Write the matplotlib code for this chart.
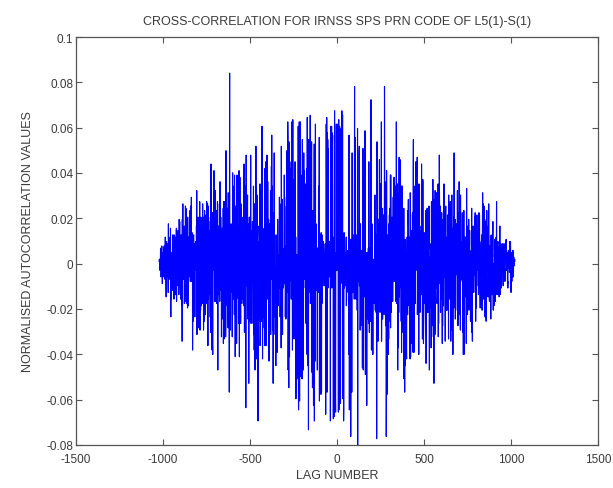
import numpy as np
import matplotlib
matplotlib.use("Agg")
import matplotlib.pyplot as plt

# IRNSS SPS code definitions (Gold codes, 1023 chips)
code_length = 1023
g1_taps = [7, 10]
g2_taps = [1, 2, 4, 7, 8, 10]
g1_init = [1, 1, 1, 1, 1, 1, 1, 1, 1, 1]
g2_init_L5_1 = [1, 1, 1, 0, 1, 0, 0, 1, 1, 1]
g2_init_S_1 = [0, 0, 1, 1, 1, 0, 1, 1, 1, 1]

x_ticks = [-1500, -1000, -500, 0, 500, 1000, 1500]
y_ticks = [-0.08, -0.06, -0.04, -0.02, 0, 0.02, 0.04, 0.06, 0.08, 0.1]
x_tick_labels = ["-1500", "-1000", "-500", "0", "500", "1000", "1500"]
y_tick_labels = ["-0.08", "-0.06", "-0.04", "-0.02", "0", "0.02", "0.04", "0.06", "0.08", "0.1"]


def lfsr(init, taps, n):
    s = list(init)
    out = []
    for _ in range(n):
        out.append(s[9])
        fb = 0
        for t in taps:
            fb ^= s[t - 1]
        s = [fb] + s[:9]
    return np.array(out)


def prn(g2_init):
    g1 = lfsr(g1_init, g1_taps, code_length)
    g2 = lfsr(g2_init, g2_taps, code_length)
    return 1 - 2 * (g1 ^ g2)


a = prn(g2_init_L5_1).astype(float)
b = prn(g2_init_S_1).astype(float)
corr = np.correlate(a, b, mode="full") / code_length
lags = np.arange(-(code_length - 1), code_length)

fig = plt.figure(figsize=(6.13, 4.89), dpi=100)
ax = fig.add_axes([76 / 613, 1 - 446 / 489, 522 / 613, 408 / 489])
ax.plot(lags, corr, color="#0000ff", linewidth=0.8)

ax.set_xlim(-1500, 1500)
ax.set_ylim(-0.08, 0.1)
ax.set_xticks(x_ticks)
ax.set_xticklabels(x_tick_labels)
ax.set_yticks(y_ticks)
ax.set_yticklabels(y_tick_labels)

txt = "#3a3a3a"
for s in ax.spines.values():
    s.set_color("#555555")
    s.set_linewidth(0.9)
ax.tick_params(direction="in", top=True, right=True, length=4, width=0.8,
               colors="#555555", labelcolor=txt, labelsize=8.5)
ax.tick_params(axis="x", pad=6)
ax.tick_params(axis="y", pad=2)
for lab in ax.get_xticklabels() + ax.get_yticklabels():
    lab.set_family("Liberation Sans")

ax.set_title("CROSS-CORRELATION FOR IRNSS SPS PRN CODE OF L5(1)-S(1)",
             fontsize=9, color=txt, family="Liberation Sans", pad=9)
ax.set_xlabel("LAG NUMBER", fontsize=9, color=txt, family="Liberation Sans", labelpad=3)
ax.set_ylabel("NORMALISED AUTOCORRELATION VALUES", fontsize=9, color=txt,
              family="Liberation Sans", labelpad=9)

fig.savefig("out.png", dpi=100)
